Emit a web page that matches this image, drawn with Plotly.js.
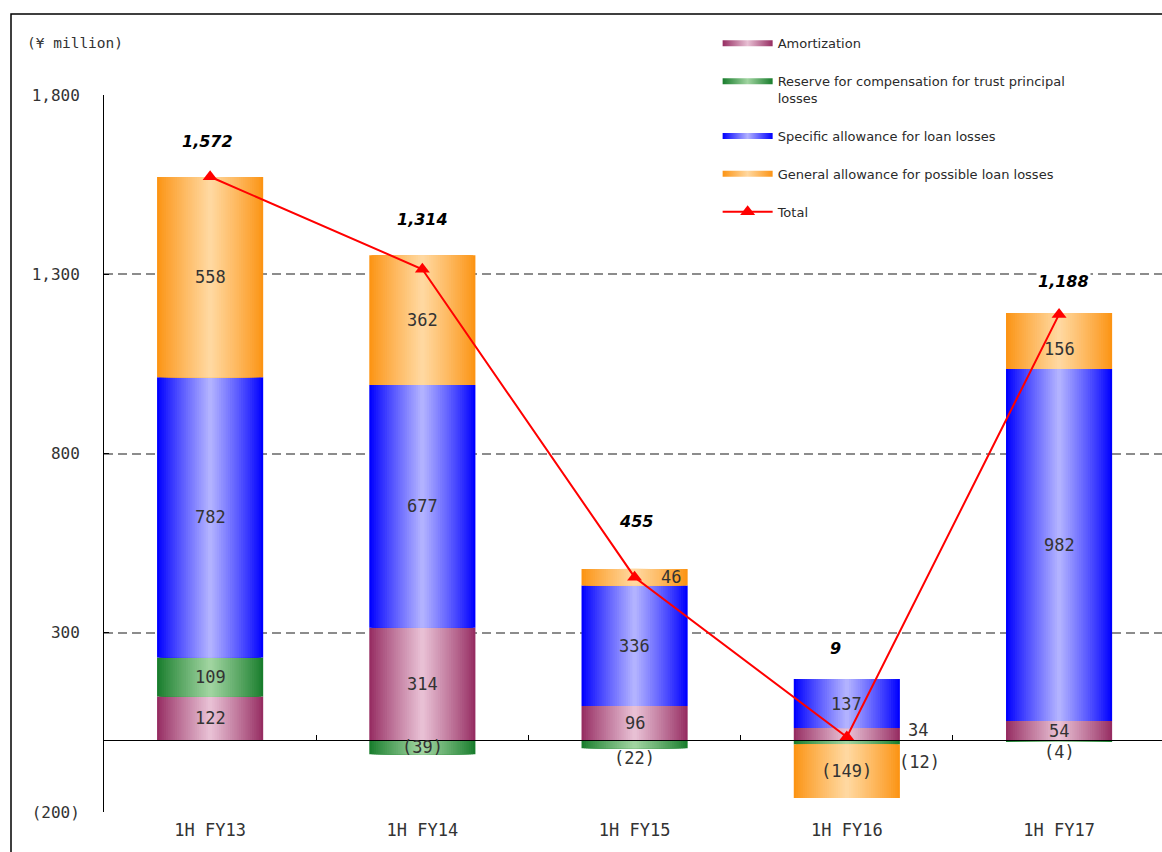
<!DOCTYPE html>
<html>
<head>
<meta charset="utf-8">
<script src="https://cdn.plot.ly/plotly-3.0.1.min.js"></script>
<style>
  html, body { margin: 0; padding: 0; background: #ffffff; }
  #chart { width: 1162px; height: 852px; }
</style>
</head>
<body>
<div id="chart"></div>
<script>
// Credit cost breakdown by half-year (¥ million)
const categories   = ['1H FY13', '1H FY14', '1H FY15', '1H FY16', '1H FY17'];
const amortization = [122, 314, 96, 34, 54];
const reserve      = [109, -39, -22, -12, -4];
const specific     = [782, 677, 336, 137, 982];
const general      = [558, 362, 46, -149, 156];
const totals       = [1572, 1314, 455, 9, 1188];
const yTickVals    = [-200, 300, 800, 1300, 1800];
const yTickText    = ['(200)', '300', '800', '1,300', '1,800'];

// Series styling: edge colour and centre highlight of the cylinder-like shading
const series = [
  { key: 'amortization', name: 'Amortization', values: amortization,
    edge: [150, 45, 98], center: [232, 192, 212] },
  { key: 'reserve', name: 'Reserve for compensation for trust principal<br>losses', values: reserve,
    edge: [25, 125, 45], center: [160, 212, 160] },
  { key: 'specific', name: 'Specific allowance for loan losses', values: specific,
    edge: [0, 0, 255], center: [178, 178, 255] },
  { key: 'general', name: 'General allowance for possible loan losses', values: general,
    edge: [252, 148, 20], center: [255, 216, 160] }
];

// Pixel nudges for labels that sit beside or below their segment
const segNudge = {
  'general-2': [36, 0],
  'amortization-3': [71, 4],
  'reserve-3': [73, -20],
  'reserve-2': [0, -14],
  'reserve-4': [0, -11],
  'general-4': [0, -8]
};
const totalShiftX = [-3, 0, 1, -11, 4];
const totalShiftY = [36, 36, 47, 31, 31];

const FONT = 'DejaVu Sans Mono, monospace';
const BAR_WIDTH = 0.5;
const LAYERS = 24;

function rgb(c) { return 'rgb(' + c.map(v => Math.round(v)).join(',') + ')'; }
function mix(a, b, t) { return a.map((v, i) => v + (b[i] - v) * t); }
function fmt(v) {
  const s = Math.abs(v).toLocaleString('en-US');
  return v < 0 ? '(' + s + ')' : s;
}

// Relative stacking: positives build up from zero, negatives build down
const posTop = categories.map(() => 0);
const negBottom = categories.map(() => 0);
series.forEach(s => {
  s.bases = s.values.map((v, i) => {
    if (v >= 0) { const b = posTop[i]; posTop[i] += v; return b; }
    const b = negBottom[i]; negBottom[i] += v; return b;
  });
});

const traces = [];

// Each series drawn as nested bars of shrinking width, lighter towards the middle
series.forEach(s => {
  for (let k = 0; k < LAYERS; k++) {
    const t = k / (LAYERS - 1);
    traces.push({
      type: 'bar',
      x: categories,
      y: s.values,
      base: s.bases,
      width: BAR_WIDTH * (LAYERS - k) / LAYERS,
      marker: { color: rgb(mix(s.edge, s.center, Math.pow(t, 0.9))), line: { width: 0 } },
      showlegend: false,
      hoverinfo: 'skip',
      legendgroup: s.key
    });
  }
});

// Legend swatches with the same shading
series.forEach(s => {
  traces.push({
    type: 'scatter',
    x: [null], y: [null],
    mode: 'none',
    fill: 'toself',
    fillgradient: {
      type: 'horizontal',
      colorscale: [[0, rgb(s.edge)], [0.5, rgb(s.center)], [1, rgb(s.edge)]]
    },
    name: s.name,
    legendgroup: s.key,
    showlegend: true,
    hoverinfo: 'skip'
  });
});

// Total line
traces.push({
  type: 'scatter',
  mode: 'lines+markers',
  x: categories,
  y: totals,
  name: 'Total',
  legendgroup: 'total',
  line: { color: '#ff0000', width: 2 },
  marker: { symbol: 'triangle-up', size: 13, color: '#ff0000' },
  hoverinfo: 'x+y'
});

// Helper trace for the zero-level category axis
traces.push({
  type: 'scatter', mode: 'none',
  x: categories, y: categories.map(() => null),
  xaxis: 'x2', yaxis: 'y',
  showlegend: false, hoverinfo: 'skip'
});

const annotations = [];

series.forEach(s => {
  s.values.forEach((v, i) => {
    const n = segNudge[s.key + '-' + i] || [0, 0];
    annotations.push({
      x: categories[i], y: s.bases[i] + v / 2,
      xref: 'x', yref: 'y',
      text: fmt(v),
      showarrow: false,
      xshift: n[0], yshift: n[1],
      font: { family: FONT, size: 17, color: '#333333' }
    });
  });
});

totals.forEach((v, i) => {
  annotations.push({
    x: categories[i], y: posTop[i],
    xref: 'x', yref: 'y',
    text: '<b><i>' + fmt(v) + '</i></b>',
    showarrow: false,
    xshift: totalShiftX[i], yshift: totalShiftY[i],
    bgcolor: '#ffffff',
    borderpad: 1,
    font: { family: 'DejaVu Sans, sans-serif', size: 16, color: '#000000' }
  });
});

annotations.push({
  xref: 'paper', yref: 'paper',
  x: -0.075, y: 1.0725, xanchor: 'left', yanchor: 'middle',
  text: '(¥ million)',
  showarrow: false,
  font: { family: FONT, size: 14.5, color: '#333333' }
});

const layout = {
  width: 1162,
  height: 852,
  margin: { l: 104, r: 0, t: 95, b: 40, pad: 0 },
  paper_bgcolor: '#ffffff',
  plot_bgcolor: '#ffffff',
  barmode: 'overlay',
  font: { family: FONT, color: '#333333' },
  xaxis: {
    type: 'category',
    range: [-0.5, 4.485],
    showline: false,
    ticks: '',
    showgrid: false,
    zeroline: false,
    ticklabelstandoff: 6,
    tickfont: { family: FONT, size: 17, color: '#333333' },
    fixedrange: true
  },
  xaxis2: {
    type: 'category',
    overlaying: 'x',
    anchor: 'free',
    position: 0.1,
    range: [-0.5, 4.485],
    showline: true,
    linecolor: '#000000',
    linewidth: 1,
    ticks: 'inside',
    tickson: 'boundaries',
    ticklen: 5,
    tickcolor: '#000000',
    showticklabels: false,
    showgrid: false,
    zeroline: false,
    layer: 'above traces',
    fixedrange: true
  },
  yaxis: {
    range: [-200, 1800],
    tickmode: 'array',
    tickvals: yTickVals,
    ticktext: yTickText,
    ticks: 'inside',
    ticklen: 5,
    tickcolor: '#000000',
    showline: true,
    linecolor: '#000000',
    linewidth: 1,
    showgrid: true,
    gridcolor: '#8c8c8c',
    gridwidth: 2,
    griddash: '9px,5px',
    zeroline: false,
    ticklabelstandoff: 20,
    tickfont: { family: FONT, size: 16, color: '#333333' },
    fixedrange: true
  },
  legend: {
    x: 0.580, y: 1.093,
    xanchor: 'left', yanchor: 'top',
    bgcolor: 'rgba(0,0,0,0)',
    font: { family: 'DejaVu Sans, sans-serif', size: 13, color: '#2a2a2a' },
    traceorder: 'grouped',
    tracegroupgap: 18,
    itemwidth: 50,
    valign: 'top'
  },
  shapes: [{
    type: 'rect', xref: 'paper', yref: 'paper',
    x0: (11 - 104) / 1058, x1: 1.05,
    y0: -0.2, y1: (812 - 14) / 717,
    line: { color: '#000000', width: 1.5 },
    fillcolor: 'rgba(0,0,0,0)',
    layer: 'below'
  }],
  annotations: annotations,
  showlegend: true
};

Plotly.newPlot('chart', traces, layout, { displayModeBar: false, staticPlot: false });
</script>
</body>
</html>
